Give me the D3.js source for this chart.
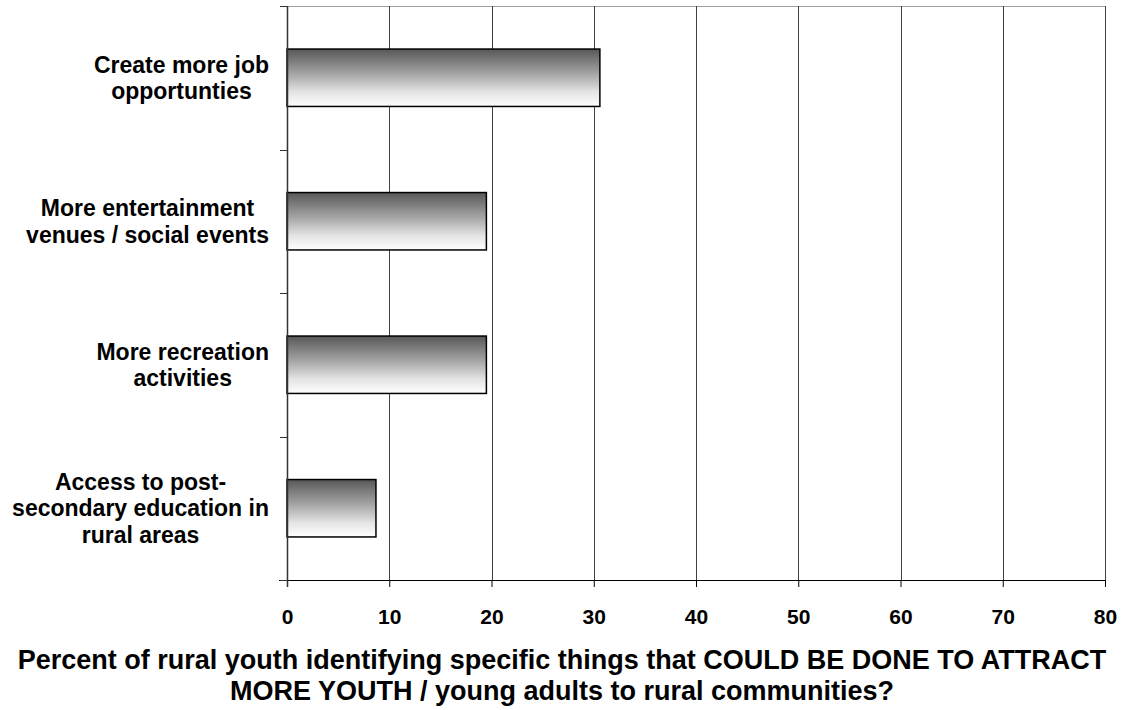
<!DOCTYPE html>
<html>
<head>
<meta charset="utf-8">
<script src="https://cdn.jsdelivr.net/npm/d3@7"></script>
<style>
  body { margin: 0; background: #fff; }
  text { font-family: "Liberation Sans", Arial, sans-serif; font-weight: bold; fill: #000; }
</style>
</head>
<body>
<svg id="chart"></svg>
<script>
// data
const categories = [
  ["Create more job", "opportunties"],
  ["More entertainment", "venues / social events"],
  ["More recreation", "activities"],
  ["Access to post-", "secondary education in", "rural areas"]
];
const values = [30.6, 19.5, 19.5, 8.7];
const xTicks = [0, 10, 20, 30, 40, 50, 60, 70, 80];
const titleLines = [
  "Percent of rural youth identifying specific things that COULD BE DONE TO ATTRACT",
  "MORE YOUTH / young adults to rural communities?"
];

const width = 1131;
const height = 710;
const margin = { top: 6, right: 26, bottom: 130, left: 287 };

const svg = d3.select("#chart").attr("width", width).attr("height", height);

const x_scale = d3.scaleLinear().domain([0, 80])
  .range([margin.left, width - margin.right]);
const y_scale = d3.scaleBand().domain(d3.range(categories.length))
  .range([margin.top, height - margin.bottom])
  .paddingInner(0.6).paddingOuter(0.3);

// gradient for bars
const grad = svg.append("defs").append("linearGradient")
  .attr("id", "barGrad").attr("x1", 0).attr("y1", 0).attr("x2", 0).attr("y2", 1);
grad.append("stop").attr("offset", "0%").attr("stop-color", "#575757");
grad.append("stop").attr("offset", "45%").attr("stop-color", "#a8a8a8");
grad.append("stop").attr("offset", "75%").attr("stop-color", "#e4e4e4");
grad.append("stop").attr("offset", "100%").attr("stop-color", "#ffffff");

const plotBottom = height - margin.bottom;

// top border
svg.append("line")
  .attr("x1", margin.left).attr("x2", width - margin.right)
  .attr("y1", margin.top + 0.5).attr("y2", margin.top + 0.5)
  .attr("stroke", "#a0a0a0");

// grid lines
svg.append("g")
  .selectAll("line")
  .data(xTicks.slice(1))
  .join("line")
  .attr("x1", (d) => Math.round(x_scale(d)) + 0.5)
  .attr("x2", (d) => Math.round(x_scale(d)) + 0.5)
  .attr("y1", margin.top)
  .attr("y2", plotBottom)
  .attr("stroke", "#404040");

// bars
svg.append("g")
  .selectAll("rect")
  .data(values)
  .join("rect")
  .attr("x", x_scale(0))
  .attr("y", (d, i) => y_scale(i))
  .attr("width", (d) => x_scale(d) - x_scale(0))
  .attr("height", y_scale.bandwidth())
  .attr("fill", "url(#barGrad)")
  .attr("stroke", "#000")
  .attr("stroke-width", 1.5);

// x axis
const xAxis = d3.axisBottom(x_scale).tickValues(xTicks).tickSize(7).tickPadding(37);
const gx = svg.append("g")
  .attr("transform", `translate(0, ${plotBottom})`)
  .call(xAxis);
gx.select(".domain").attr("stroke", "#000").attr("d", `M${margin.left - 8},0.5H${width - margin.right}`);
gx.selectAll(".tick line").attr("stroke", "#000");
gx.selectAll("text")
  .style("font-family", "'Liberation Sans', Arial, sans-serif")
  .style("font-weight", "bold")
  .style("font-size", "21px")
  .attr("dy", 0)
  .attr("fill", "#000");

// y axis line and ticks at band boundaries
const step = y_scale.step();
const boundaries = d3.range(categories.length + 1).map((i) => margin.top + i * step);
svg.append("line")
  .attr("x1", margin.left + 0.5).attr("x2", margin.left + 0.5)
  .attr("y1", margin.top).attr("y2", plotBottom + 7)
  .attr("stroke", "#333").attr("stroke-width", 1.5);
svg.append("g")
  .selectAll("line")
  .data(boundaries)
  .join("line")
  .attr("x1", margin.left - 7).attr("x2", margin.left)
  .attr("y1", (d) => Math.round(d) + 0.5)
  .attr("y2", (d) => Math.round(d) + 0.5)
  .attr("stroke", "#333");

// category labels: lines centred in a block whose right edge sits left of the axis
const lineH = 26.5;
const labelRight = 269;
svg.append("g")
  .selectAll("text")
  .data(categories)
  .join("text")
  .attr("text-anchor", "middle")
  .style("font-size", "23px")
  .attr("y", (d, i) => y_scale(i) + y_scale.bandwidth() / 2 - ((d.length - 1) * lineH) / 2 + 8)
  .each(function (d) {
    const tspans = d3.select(this).selectAll("tspan")
      .data(d)
      .join("tspan")
      .attr("dy", (t, j) => (j === 0 ? 0 : lineH))
      .text((t) => t);
    let maxW = 0;
    tspans.each(function () { maxW = Math.max(maxW, this.getComputedTextLength()); });
    tspans.attr("x", labelRight - maxW / 2);
  });

// title
svg.append("text")
  .attr("text-anchor", "middle")
  .style("font-size", "27px")
  .selectAll("tspan")
  .data(titleLines)
  .join("tspan")
  .attr("x", 562)
  .attr("y", (d, i) => 669 + i * 31)
  .text((d) => d);
</script>
</body>
</html>
